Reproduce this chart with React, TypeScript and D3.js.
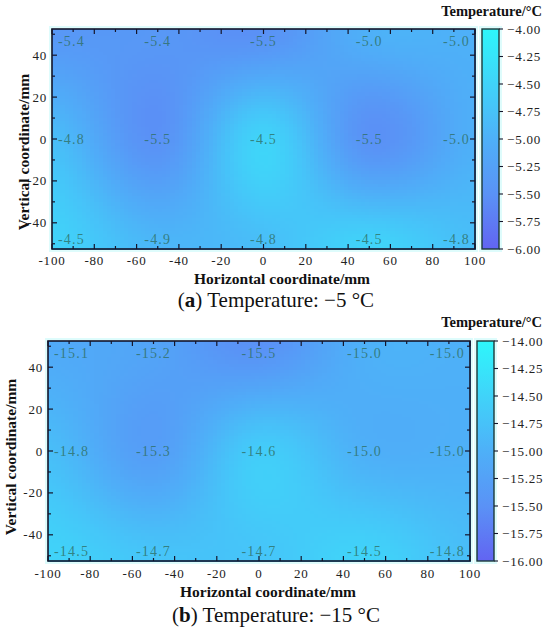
import * as React from "react";
import * as d3 from "d3";

// measuring grid (mm)
const gridX = [-100, -50, 0, 50, 100];
const gridY = [50, 0, -50];

// (a) ambient -5 °C
const tempATop = [-5.4, -5.4, -5.5, -5.0, -5.0];
const tempAMid = [-4.8, -5.5, -4.5, -5.5, -5.0];
const tempABottom = [-4.5, -4.9, -4.8, -4.5, -4.8];

// (b) ambient -15 °C
const tempBTop = [-15.1, -15.2, -15.5, -15.0, -15.0];
const tempBMid = [-14.8, -15.3, -14.6, -15.0, -15.0];
const tempBBottom = [-14.5, -14.7, -14.7, -14.5, -14.8];

const xTicks = [-100, -80, -60, -40, -20, 0, 20, 40, 60, 80, 100];
const yTicks = [-40, -20, 0, 20, 40];
const cbTicksA = [-6.0, -5.75, -5.5, -5.25, -5.0, -4.75, -4.5, -4.25, -4.0];
const cbTicksB = [-16.0, -15.75, -15.5, -15.25, -15.0, -14.75, -14.5, -14.25, -14.0];

const palette = ["#6264f2", "#5a92f6", "#4eb0f8", "#40d3f9", "#2ef6fa"];

const serif = "'Liberation Serif', 'Times New Roman', serif";
const axisColor = "#15152a";

// catmull-rom on a uniform grid
const cr = (v: number[], t: number) => {
  const n = v.length;
  const i = Math.max(0, Math.min(n - 2, Math.floor(t)));
  const f = t - i;
  const p0 = v[Math.max(i - 1, 0)], p1 = v[i], p2 = v[i + 1], p3 = v[Math.min(i + 2, n - 1)];
  return 0.5 * (2 * p1 + (-p0 + p2) * f + (2 * p0 - 5 * p1 + 4 * p2 - p3) * f * f + (-p0 + 3 * p1 - 3 * p2 + p3) * f * f * f);
};

const field = (rows: number[][], gx: number, gy: number) => {
  const tx = (Math.max(-100, Math.min(100, gx)) - gridX[0]) / (gridX[1] - gridX[0]);
  const ty = (gridY[0] - Math.max(-50, Math.min(50, gy))) / (gridY[0] - gridY[1]);
  const col = rows.map(r => cr(r, tx));
  return cr(col, ty);
};

const Panel = ({ L, rows, lo, hi, cbTicks, tag, caption, id }) => {
  const x = d3.scaleLinear().domain([-100, 100]).range([L.left, L.right]);
  const y = d3.scaleLinear().domain([-52.5, 52.5]).range([L.bottom, L.top]);
  const color = d3
    .scaleLinear<string>()
    .domain(d3.range(5).map(i => lo + (i * (hi - lo)) / 4))
    .range(palette)
    .interpolate(d3.interpolateRgb)
    .clamp(true);
  const cb = d3.scaleLinear().domain([lo, hi]).range([L.bottom, L.top]);

  const dx = 2, dy = 1.5;
  const cells = [];
  for (let gx = -100; gx < 100; gx += dx) {
    for (let gy = -52.5; gy < 52.49; gy += dy) {
      cells.push({ gx, gy, v: field(rows, gx + dx / 2, gy + dy / 2) });
    }
  }

  const labels = [];
  rows.forEach((r, j) =>
    r.forEach((v, i) => {
      let px = x(gridX[i]);
      let anchor = "middle";
      if (i === 0) { px += 6; anchor = "start"; }
      if (i === gridX.length - 1) { px -= 5; anchor = "end"; }
      const py = Math.max(L.top + 12, Math.min(L.bottom - 10, y(gridY[j])));
      labels.push({ px, py, anchor, text: v.toFixed(1) });
    })
  );

  const minorX = d3.range(-100, 101, 10);
  const minorY = d3.range(-50, 51, 10);
  const fmt = d3.format(".2f");

  return (
    <g>
      <defs>
        <linearGradient id={`cb-${id}`} x1="0" y1="1" x2="0" y2="0">
          {d3.range(0, 1.001, 0.125).map(t => (
            <stop key={t} offset={t} stopColor={color(lo + t * (hi - lo))} />
          ))}
        </linearGradient>
      </defs>

      {/* faint halo around frame */}
      <rect x={L.left - 3} y={L.top - 3} width={L.right - L.left + 6} height={L.bottom - L.top + 6} fill="#defcfc" />
      <rect x={L.cbX - 3} y={L.top - 3} width={L.cbW + 6} height={L.bottom - L.top + 6} fill="#defcfc" />

      <g shapeRendering="crispEdges">
        {cells.map((c, k) => (
          <rect
            key={k}
            x={x(c.gx)}
            y={y(c.gy + dy)}
            width={x(c.gx + dx) - x(c.gx) + 0.6}
            height={y(c.gy) - y(c.gy + dy) + 0.6}
            fill={color(c.v)}
          />
        ))}
      </g>

      {labels.map((l, k) => (
        <text
          key={k}
          x={l.px}
          y={l.py}
          textAnchor={l.anchor}
          dominantBaseline="central"
          fontFamily={serif}
          fontSize={14}
          letterSpacing={1.2}
          fill="#2f6f62"
          fillOpacity={0.8}
        >
          {l.text}
        </text>
      ))}

      {/* ticks, inward on all four sides */}
      <g stroke={axisColor} strokeWidth={1.2}>
        {minorX.map(t => {
          const len = t % 20 === 0 ? 5 : 3;
          return (
            <g key={`x${t}`}>
              <line x1={x(t)} x2={x(t)} y1={L.bottom} y2={L.bottom - len} />
              <line x1={x(t)} x2={x(t)} y1={L.top} y2={L.top + len} />
            </g>
          );
        })}
        {minorY.map(t => {
          const len = t % 20 === 0 ? 5 : 3;
          return (
            <g key={`y${t}`}>
              <line x1={L.left} x2={L.left + len} y1={y(t)} y2={y(t)} />
              <line x1={L.right} x2={L.right - len} y1={y(t)} y2={y(t)} />
            </g>
          );
        })}
      </g>
      <rect x={L.left} y={L.top} width={L.right - L.left} height={L.bottom - L.top} fill="none" stroke={axisColor} strokeWidth={1.6} />

      <g fontFamily={serif} fontSize={13} letterSpacing={0.8} fill="#222">
        {xTicks.map(t => (
          <text key={t} x={x(t)} y={L.xTickY} textAnchor="middle">{t}</text>
        ))}
        {yTicks.map(t => (
          <text key={t} x={L.left - 5} y={y(t)} textAnchor="end" dominantBaseline="central">{t}</text>
        ))}
      </g>

      {/* colour bar */}
      <rect x={L.cbX} y={L.top} width={L.cbW} height={L.bottom - L.top} fill={`url(#cb-${id})`} stroke="#1c3a3a" strokeWidth={1.4} />
      <g stroke={axisColor} strokeWidth={1.1}>
        {cbTicks.map(t => (
          <line key={t} x1={L.cbX + L.cbW} x2={L.cbX + L.cbW + 4} y1={cb(t)} y2={cb(t)} />
        ))}
      </g>
      <g fontFamily={serif} fontSize={13} letterSpacing={0.8} fill="#222">
        {cbTicks.map(t => (
          <text key={t} x={L.cbX + L.cbW + 8} y={cb(t)} dominantBaseline="central">{fmt(t)}</text>
        ))}
      </g>
      <text x={542} y={L.cbTitleY} textAnchor="end" fontFamily={serif} fontWeight="bold" fontSize={14.5} fill="#111">
        Temperature/°C
      </text>

      <text x={L.xTitleX} y={L.xTitleY} textAnchor="middle" fontFamily={serif} fontWeight="bold" fontSize={15.5} fill="#111">
        Horizontal coordinate/mm
      </text>
      <text
        transform={`translate(${L.yTitleX},${L.yTitleY}) rotate(-90)`}
        textAnchor="middle"
        fontFamily={serif}
        fontWeight="bold"
        fontSize={15.5}
        fill="#111"
      >
        Vertical coordinate/mm
      </text>
      <text x={L.capX} y={L.capY} textAnchor="middle" fontFamily={serif} fontSize={21} fill="#111">
        (<tspan fontWeight="bold">{tag}</tspan>) {caption}
      </text>
    </g>
  );
};

const layoutA = {
  left: 52, right: 475, top: 29, bottom: 249,
  cbX: 482, cbW: 17, cbTitleY: 16,
  xTickY: 265, xTitleX: 282, xTitleY: 284,
  yTitleX: 29, yTitleY: 152,
  capX: 276, capY: 307,
};

const layoutB = {
  left: 48, right: 470, top: 341, bottom: 561,
  cbX: 477, cbW: 17, cbTitleY: 327,
  xTickY: 578, xTitleX: 268, xTitleY: 597,
  yTitleX: 16, yTitleY: 457,
  capX: 276, capY: 622,
};

const App = () => (
  <svg width={550} height={632} style={{ position: "absolute", left: 0, top: 0, background: "#fff" }}>
    <defs>
      <clipPath id="clipB">
        <rect x={0} y={316} width={550} height={316} />
      </clipPath>
    </defs>
    <Panel id="a" L={layoutA} rows={[tempATop, tempAMid, tempABottom]} lo={-6} hi={-4} cbTicks={cbTicksA} tag="a" caption="Temperature: −5 °C" />
    <g clipPath="url(#clipB)">
      <Panel id="b" L={layoutB} rows={[tempBTop, tempBMid, tempBBottom]} lo={-16} hi={-14} cbTicks={cbTicksB} tag="b" caption="Temperature: −15 °C" />
    </g>
  </svg>
);

export default App;
